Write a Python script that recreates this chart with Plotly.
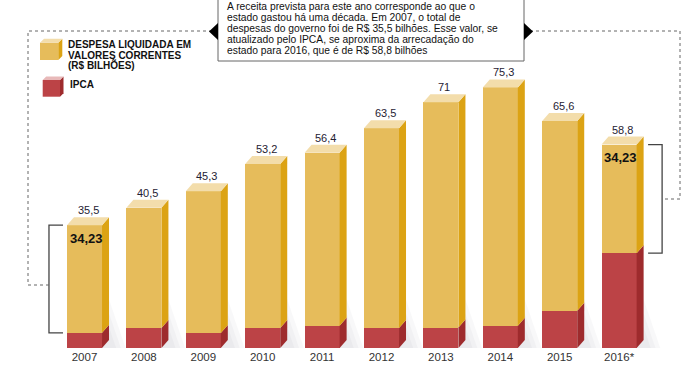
import plotly.graph_objects as go

# ---------------- data ----------------
years = ["2007", "2008", "2009", "2010", "2011", "2012", "2013", "2014", "2015", "2016*"]
total_labels = ["35,5", "40,5", "45,3", "53,2", "56,4", "63,5", "71", "75,3", "65,6", "58,8"]
total = [35.5, 40.5, 45.3, 53.2, 56.4, 63.5, 71.0, 75.3, 65.6, 58.8]
ipca = [4.4, 5.8, 4.3, 5.8, 6.4, 5.8, 5.9, 6.4, 10.8, 27.4]
bracket_idx = [0, 9]
bracket_labels = ["34,23", "34,23"]
legend_lines = ["DESPESA LIQUIDADA EM", "VALORES CORRENTES", "(R$ BILHÕES)"]
legend_ipca = "IPCA"
note_lines = [
    "A receita prevista para este ano corresponde ao que o",
    "estado gastou há uma década. Em 2007, o total de",
    "despesas do governo foi de R$ 35,5 bilhões. Esse valor, se",
    "atualizado pelo IPCA, se aproxima da arrecadação do",
    "estado para 2016, que é de R$ 58,8 bilhões",
]

# ---------------- styling ----------------
W, H = 699, 368
BASE_PX = 348          # pixel row of the baseline
PX_PER_X = 59.4
X0_PX = 84.5           # pixel of first bar centre
PX_PER_Y = 3.46
BW = 0.59              # bar front width (x units)
DX = 7 / PX_PER_X      # 3D depth in x
DY = 8 / PX_PER_Y      # 3D depth in y

Y_FRONT, Y_SIDE, Y_TOP = "#E6BC5B", "#DCA314", "#F3DDAB"
R_FRONT, R_SIDE = "#BC4346", "#9E2B2D"
FONT = "Arial, Liberation Sans, sans-serif"


def px(x):
    return x / W


def py(y):
    return (BASE_PX - y) / BASE_PX


fig = go.Figure()

n = len(years)
xs = list(range(n))
yellow = [t - r for t, r in zip(total, ipca)]

fig.add_trace(go.Bar(x=xs, y=ipca, width=BW, marker=dict(color=R_FRONT, line=dict(width=0)),
                     hoverinfo="skip"))
fig.add_trace(go.Bar(x=xs, y=yellow, width=BW, marker=dict(color=Y_FRONT, line=dict(width=0)),
                     hoverinfo="skip"))


def poly(xv, yv, color):
    fig.add_trace(go.Scatter(x=xv + [xv[0]], y=yv + [yv[0]], mode="lines", fill="toself",
                             fillcolor=color, line=dict(width=0), hoverinfo="skip"))


for i in xs:
    r = i + BW / 2
    l = i - BW / 2
    poly([r, r + DX, r + DX, r], [0, DY, ipca[i] + DY, ipca[i]], R_SIDE)
    poly([r, r + DX, r + DX, r], [ipca[i], ipca[i] + DY, total[i] + DY, total[i]], Y_SIDE)
    poly([l, l + DX, r + DX, r], [total[i], total[i] + DY, total[i] + DY, total[i]], Y_TOP)

shapes = []
for i in xs:
    r = i + BW / 2
    for k, a in enumerate([0.05, 0.05, 0.05]):
        ext = 0.12 + 0.08 * k
        hgt = 6 + 4 * k
        shapes.append(dict(type="path", xref="x", yref="y", layer="below",
                           path=f"M {r} 0 L {r + DX + ext} 0 L {r + DX} {hgt} L {r} {hgt} Z",
                           fillcolor=f"rgba(120,120,140,{a})", line=dict(width=0)))

annotations = []
for i in xs:
    annotations.append(dict(x=i + 0.06, y=total[i] + DY, xref="x", yref="y", text=total_labels[i],
                            showarrow=False, yanchor="middle", yshift=7,
                            font=dict(family=FONT, size=11, color="#1f2233")))

for j, i in enumerate(bracket_idx):
    if i == 0:
        xa, xb = i - 0.362, i - 0.598
    else:
        xa, xb = i + 0.488, i + 0.724
    shapes.append(dict(type="path", xref="x", yref="y",
                       path=f"M {xa} {total[i]} L {xb} {total[i]} L {xb} {ipca[i]} L {xa} {ipca[i]}",
                       line=dict(color="#444", width=1.3)))
    annotations.append(dict(x=i + 0.03, y=total[i], xref="x", yref="y", text=f"<b>{bracket_labels[j]}</b>",
                            showarrow=False, yanchor="middle", yshift=-13,
                            font=dict(family=FONT, size=13, color="#111")))

dot = dict(color="#666", width=1, dash="dot")
shapes.append(dict(type="path", xref="paper", yref="paper",
                   path=f"M {px(49)} {py(285)} L {px(28)} {py(285)} L {px(28)} {py(31)} L {px(212)} {py(31)}",
                   line=dot))
shapes.append(dict(type="path", xref="paper", yref="paper",
                   path=f"M {px(530)} {py(31)} L {px(680)} {py(31)} L {px(680)} {py(199)} L {px(662)} {py(199)}",
                   line=dot))

shapes.append(dict(type="rect", xref="paper", yref="paper", x0=px(218), x1=px(524), y0=py(61), y1=py(-2),
                   fillcolor="white", line=dict(color="#666", width=1)))
shapes.append(dict(type="path", xref="paper", yref="paper",
                   path=f"M {px(218)} {py(23)} L {px(209)} {py(31.5)} L {px(218)} {py(40)} Z",
                   fillcolor="black", line=dict(width=0)))
shapes.append(dict(type="path", xref="paper", yref="paper",
                   path=f"M {px(524)} {py(23)} L {px(533)} {py(31.5)} L {px(524)} {py(40)} Z",
                   fillcolor="black", line=dict(width=0)))
for k, line in enumerate(note_lines):
    annotations.append(dict(x=px(225), y=py(6.7 + 11 * k), xref="paper", yref="paper", text=line,
                            showarrow=False, xanchor="left", yanchor="middle",
                            font=dict(family=FONT, size=10.3, color="#111")))


def cube(x0, x1, y0, y1, d, front, side, top):
    shapes.append(dict(type="rect", xref="paper", yref="paper", x0=px(x0), x1=px(x1), y0=py(y1), y1=py(y0),
                       fillcolor=front, line=dict(width=0)))
    shapes.append(dict(type="path", xref="paper", yref="paper",
                       path=f"M {px(x1)} {py(y0)} L {px(x1 + d)} {py(y0 - d)} L {px(x1 + d)} {py(y1 - d)} L {px(x1)} {py(y1)} Z",
                       fillcolor=side, line=dict(width=0)))
    shapes.append(dict(type="path", xref="paper", yref="paper",
                       path=f"M {px(x0)} {py(y0)} L {px(x0 + d)} {py(y0 - d)} L {px(x1 + d)} {py(y0 - d)} L {px(x1)} {py(y0)} Z",
                       fillcolor=top, line=dict(width=0)))


cube(40, 58.3, 42.7, 60, 4, Y_FRONT, Y_SIDE, Y_TOP)
cube(42.7, 60, 80, 96.7, 3.5, R_FRONT, R_SIDE, "#E8B9B9")

for k, line in enumerate(legend_lines):
    annotations.append(dict(x=px(66), y=py(45 + 10 * k), xref="paper", yref="paper", text=f"<b>{line}</b>",
                            showarrow=False, xanchor="left", yanchor="middle",
                            font=dict(family=FONT, size=10, color="#111")))
annotations.append(dict(x=px(68), y=py(84.5), xref="paper", yref="paper", text=f"<b>{legend_ipca}</b>",
                        showarrow=False, xanchor="left", yanchor="middle",
                        font=dict(family=FONT, size=10, color="#111")))

fig.update_layout(
    width=W, height=H, margin=dict(l=0, r=0, t=0, b=H - BASE_PX, autoexpand=False),
    paper_bgcolor="white", plot_bgcolor="white", showlegend=False, barmode="stack",
    xaxis=dict(range=[-X0_PX / PX_PER_X, (W - X0_PX) / PX_PER_X], tickvals=xs, ticktext=years,
               showgrid=False, zeroline=False, showline=False, ticks="", fixedrange=True,
               tickfont=dict(family=FONT, size=11.5, color="#333")),
    yaxis=dict(range=[0, BASE_PX / PX_PER_Y], visible=False, fixedrange=True),
    shapes=shapes, annotations=annotations,
)

fig.write_html("out.html", config={"displayModeBar": False},
               post_script="document.body.style.margin='0';document.body.style.overflow='hidden';")
